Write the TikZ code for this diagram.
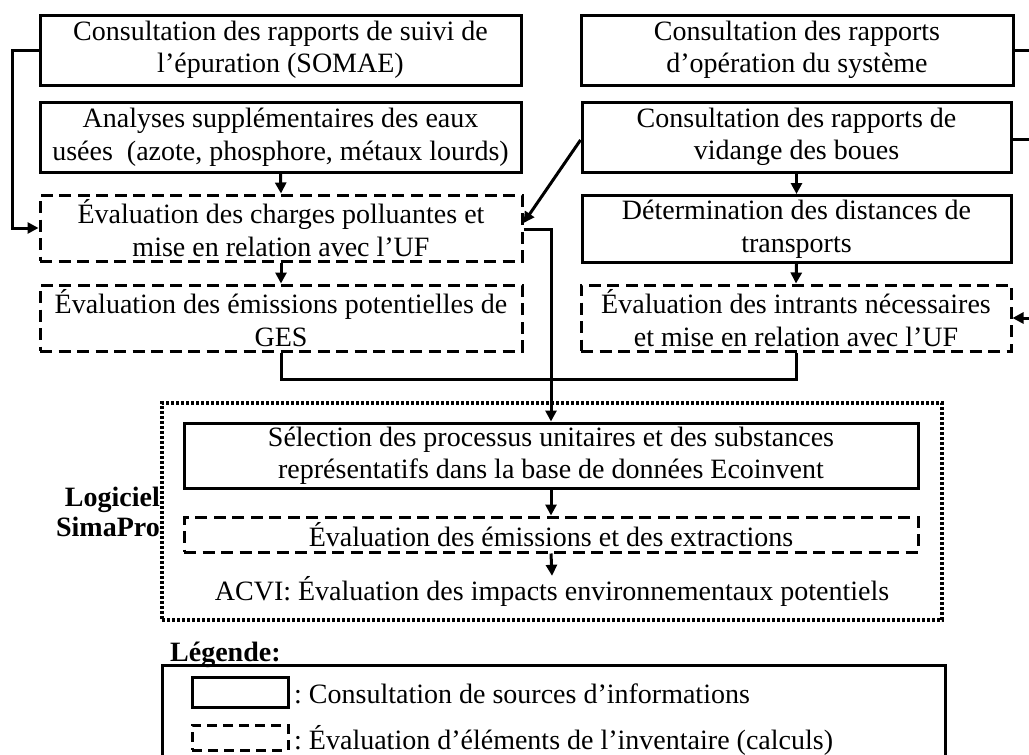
\documentclass[tikz,border=0pt]{standalone}
\usepackage{fontspec}
\setmainfont{Liberation Serif}
\usetikzlibrary{arrows.meta}
\begin{document}
\begin{tikzpicture}[x=1pt,y=-1pt,
  font=\fontsize{28}{32.5}\selectfont,
  every node/.style={inner sep=0pt, align=center},
  srcbox/.style={draw, line width=3pt},
  calcbox/.style={draw, line width=3pt, dash pattern=on 12pt off 6.5pt},
  dotbox/.style={draw, line width=3.2pt, dash pattern=on 3pt off 2pt},
  conn/.style={line width=3pt},
  arr/.style={conn, -{Triangle[length=11pt,width=11pt]}}]

% page frame
\fill[white] (0,0) rectangle (1029,755);
\clip (0,0) rectangle (1029,755);

% left column
\node[srcbox, minimum width=481pt, minimum height=70pt] (A) at (280.5,50)
  {Consultation des rapports de suivi de\\l’épuration (SOMAE)};
\node[srcbox, minimum width=481pt, minimum height=70pt] (B) at (280.5,137)
  {Analyses supplémentaires des eaux\\usées\ \ (azote, phosphore, métaux lourds)};
\node[calcbox, minimum width=482pt, minimum height=66pt] (C) at (281,228)
  {Évaluation des charges polluantes et\\mise en relation avec l’UF};
\node[calcbox, minimum width=482pt, minimum height=66pt] (D) at (281,318)
  {Évaluation des émissions potentielles de\\GES};

% right column
\node[srcbox, minimum width=432pt, minimum height=70pt] (E) at (797,50)
  {Consultation des rapports\\d’opération du système};
\node[srcbox, minimum width=429pt, minimum height=70pt] (F) at (796.5,137)
  {Consultation des rapports de\\vidange des boues};
\node[srcbox, minimum width=429pt, minimum height=67pt] (G) at (796.5,229)
  {Détermination des distances de\\transports};
\node[calcbox, minimum width=430pt, minimum height=66pt] (H) at (796,318)
  {Évaluation des intrants nécessaires\\et mise en relation avec l’UF};

% SimaPro block
\node[dotbox, minimum width=780pt, minimum height=217pt] (SP) at (552,511.5) {};
\node[anchor=east, font=\fontsize{28}{30}\selectfont\bfseries, align=right] (SPL) at (160,512)
  {Logiciel\\SimaPro};
\node[srcbox, minimum width=734pt, minimum height=65pt] (Sel) at (551,455.5)
  {Sélection des processus unitaires et des substances\\représentatifs dans la base de données Ecoinvent};
\node[calcbox, minimum width=734pt, minimum height=35pt] (Em) at (551,534.5)
  {Évaluation des émissions et des extractions};
\node (ACVI) at (552,591)
  {ACVI: Évaluation des impacts environnementaux potentiels};

% legend
\node[anchor=west, font=\fontsize{28}{30}\selectfont\bfseries] (LegT) at (170,655) {Légende:};
\draw[line width=3pt] (162,665) rectangle (945,800);
\node[srcbox, minimum width=96pt, minimum height=30pt] (KS) at (240,692) {};
\node[calcbox, dash pattern=on 10pt off 6pt, minimum width=96pt, minimum height=25pt] (KC) at (240,737.5) {};
\node[anchor=west] (KST) at (294,694) {:\ Consultation de sources d’informations};
\node[anchor=west] (KCT) at (294,740) {:\ Évaluation d’éléments de l’inventaire (calculs)};

% connectors, left side
\coordinate (lt) at (12,50);
\draw[arr] (A.west) -- (lt) |- (C.west);
\draw[arr] (B.south) -- (C.north);
\draw[arr] (C.south) -- (D.north);
\draw[arr] ([yshift=-3pt]F.west) -- ([yshift=5pt]C.east);
\draw[arr] ([yshift=-1pt]C.east) -| (Sel.north);
\draw[conn] (D.south) -- ++(0,27) -| (H.south);

% connectors, right side
\draw[arr] (F.south) -- (G.north);
\draw[arr] (G.south) -- (H.north);
\coordinate (rt) at (1045,50);
\coordinate (rb) at (1045,318);
\draw[arr] (E.east) -- (rt) -- (rb) -- (H.east);
\draw[conn] ([yshift=-2pt]F.east) -- ([yshift=-2pt]F.east -| rt);

% connectors inside SimaPro
\draw[arr] (Sel.south) -- (Em.north);
\draw[arr] (Em.south) -- (ACVI.north);
\end{tikzpicture}
\end{document}
